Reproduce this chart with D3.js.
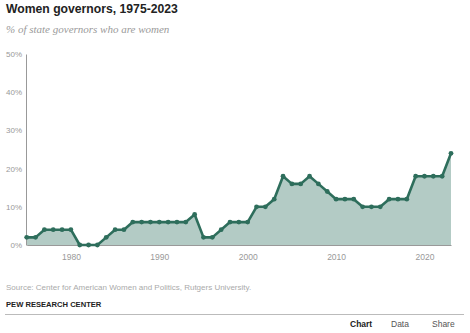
<!DOCTYPE html>
<html>
<head>
<meta charset="utf-8">
<script src="https://cdn.jsdelivr.net/npm/d3@7"></script>
<style>
html,body{margin:0;padding:0;background:#fff;}
svg{display:block;}
</style>
</head>
<body>
<svg id="chart" width="470" height="333"></svg>
<script>
const title = "Women governors, 1975-2023";
const subtitle = "% of state governors who are women";
const source = "Source: Center for American Women and Politics, Rutgers University.";
const credit = "PEW RESEARCH CENTER";
const tabs = ["Chart", "Data", "Share"];

const years = d3.range(1975, 2024);
const shares = [
  2, 2, 4, 4, 4, 4, 0, 0, 0, 2,      // 1975-1984
  4, 4, 6, 6, 6, 6, 6, 6, 6, 8,      // 1985-1994
  2, 2, 4, 6, 6, 6, 10, 10, 12, 18,  // 1995-2004
  16, 16, 18, 16, 14, 12, 12, 12, 10, 10, // 2005-2014
  10, 12, 12, 12, 18, 18, 18, 18, 24 // 2015-2023
];
const yTicks = [0, 10, 20, 30, 40, 50];
const xTicks = [1980, 1990, 2000, 2010, 2020];

const data = years.map((y, i) => ({year: y, value: shares[i]}));

const svg = d3.select("#chart");
const sans = "'Liberation Sans', Arial, sans-serif";

const x = d3.scaleLinear().domain([1975, 2023]).range([26.7, 451]);
const y = d3.scaleLinear().domain([0, 50]).range([245, 54]);

// Title & subtitle
svg.append("text").attr("x", 6).attr("y", 13)
  .attr("font-family", sans).attr("font-weight", "bold").attr("font-size", 12.2)
  .attr("fill", "#222").text(title);
svg.append("text").attr("x", 6).attr("y", 33)
  .attr("font-family", "'Liberation Serif', 'DejaVu Serif', serif").attr("font-style", "italic")
  .attr("font-size", 11).attr("fill", "#9a9a9a").text(subtitle);

// Area
const area = d3.area().x(d => x(d.year)).y0(y(0)).y1(d => y(d.value));
svg.append("path").datum(data).attr("d", area).attr("fill", "#b3cbc5");

// Axes
const yAxis = d3.axisLeft(y).tickValues(yTicks).tickFormat(d => d + "%").tickSize(0).tickPadding(4);
const gy = svg.append("g").attr("transform", `translate(${x(1975) - 0.7},0)`).call(yAxis);
gy.select(".domain").attr("stroke", "#999").attr("stroke-width", 1);
gy.selectAll("text").attr("font-family", sans).attr("font-size", 8).attr("fill", "#999");

const xAxis = d3.axisBottom(x).tickValues(xTicks).tickFormat(d3.format("d")).tickSize(0).tickPadding(9);
const gx = svg.append("g").attr("transform", `translate(0,${y(0)})`).call(xAxis);
gx.select(".domain").attr("stroke", "#999").attr("stroke-width", 1);
gx.selectAll("text").attr("font-family", sans).attr("font-size", 8.5).attr("fill", "#999");

// Line
const line = d3.line().x(d => x(d.year)).y(d => y(d.value));
svg.append("path").datum(data).attr("d", line)
  .attr("fill", "none").attr("stroke", "#2e6e5c").attr("stroke-width", 2.6)
  .attr("stroke-linejoin", "round");

svg.append("g").selectAll("circle").data(data).join("circle")
  .attr("cx", d => x(d.year)).attr("cy", d => y(d.value)).attr("r", 2.4)
  .attr("fill", "#2e6e5c");

// Footer
svg.append("text").attr("x", 6).attr("y", 289.5)
  .attr("font-family", sans).attr("font-size", 8).attr("fill", "#aaa").text(source);
svg.append("text").attr("x", 6).attr("y", 307)
  .attr("font-family", sans).attr("font-weight", "bold").attr("font-size", 7.6)
  .attr("fill", "#222").text(credit);
svg.append("line").attr("x1", 5).attr("x2", 464).attr("y1", 314.5).attr("y2", 314.5)
  .attr("stroke", "#bbb").attr("stroke-width", 1);

const tabX = [350, 391, 432];
svg.append("g").selectAll("text").data(tabs).join("text")
  .attr("x", (d, i) => tabX[i]).attr("y", 327)
  .attr("font-family", sans).attr("font-size", 8.5)
  .attr("font-weight", (d, i) => i === 0 ? "bold" : "normal")
  .attr("fill", (d, i) => i === 0 ? "#222" : "#555")
  .text(d => d);
</script>
</body>
</html>
